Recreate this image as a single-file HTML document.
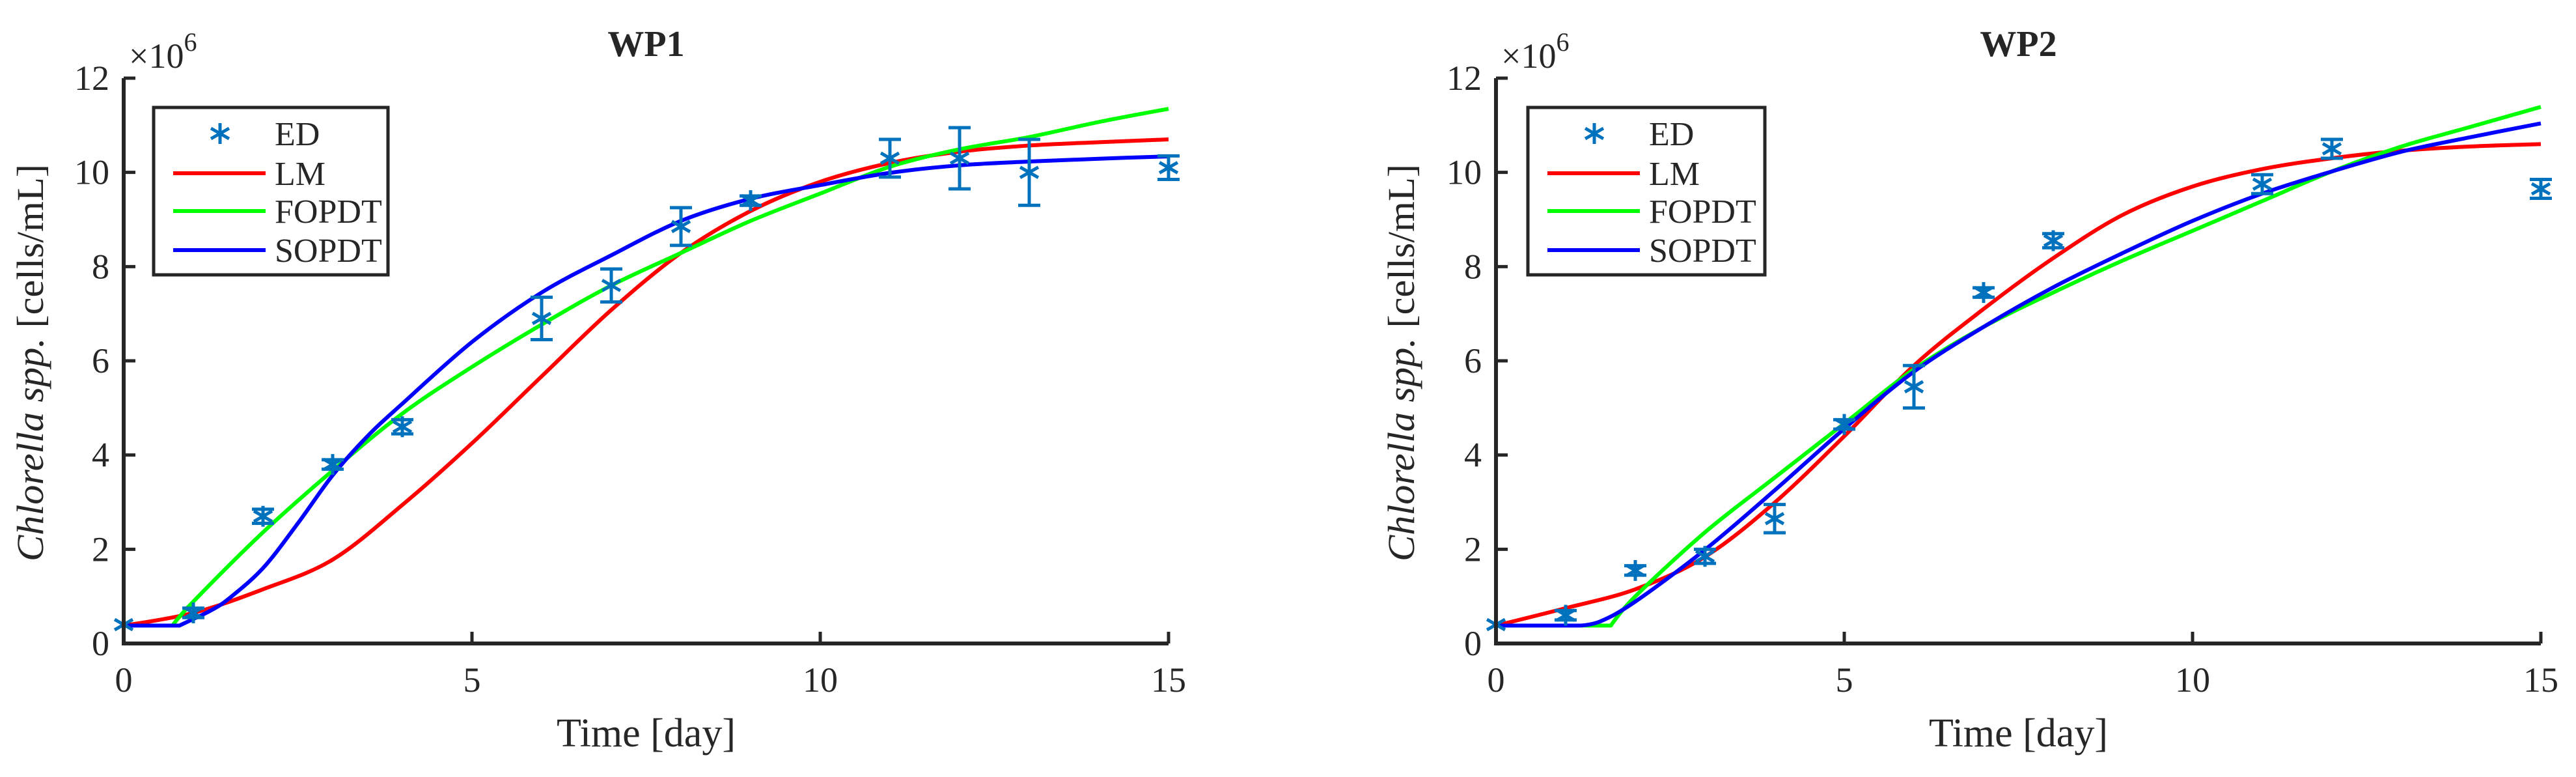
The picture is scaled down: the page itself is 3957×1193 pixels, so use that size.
<!DOCTYPE html>
<html><head><meta charset="utf-8"><style>
html,body{margin:0;padding:0;background:#fff}
svg{display:block}
text{font-family:"Liberation Serif",serif;fill:#262626}
</style></head><body>
<svg id="fig" width="3957" height="1193" viewBox="0 0 3957 1193" xmlns="http://www.w3.org/2000/svg"></svg>
<script>
// ---- data ----
const xTicks=[0,5,10,15];
const yTicks=[0,2,4,6,8,10,12];
const wp1EdX=[0,1,2,3,4,6,7,8,9,11,12,13,15];
const wp1EdY=[0.4,0.65,2.7,3.8,4.6,6.9,7.6,8.85,9.4,10.3,10.3,10.0,10.1];
const wp1EdErr=[0.05,0.1,0.15,0.1,0.15,0.45,0.35,0.4,0.1,0.4,0.65,0.7,0.25];
const wp1LmX=[0,1,2,3,4,5,6,7,8,9,10,11,12,13,14,15];
const wp1LmY=[0.38,0.65,1.15,1.78,2.94,4.25,5.67,7.08,8.29,9.18,9.8,10.2,10.44,10.57,10.64,10.7];
const wp1FoX=[0,0.7,1,2,3,4,5,6,7,8,9,10,11,12,13,14,15];
const wp1FoY=[0.38,0.38,0.89,2.36,3.67,4.88,5.87,6.77,7.6,8.29,8.97,9.55,10.12,10.49,10.75,11.07,11.35];
const wp1SoX=[0,0.8,1,1.25,1.5,2,2.5,3,3.5,4,5,6,7,8,9,10,11,12,13,14,15];
const wp1SoY=[0.38,0.38,0.52,0.7,0.94,1.6,2.55,3.57,4.4,5.09,6.4,7.45,8.24,8.97,9.44,9.73,9.99,10.15,10.23,10.29,10.34];
const wp2EdX=[0,1,2,3,4,5,6,7,8,11,12,15];
const wp2EdY=[0.4,0.6,1.55,1.85,2.65,4.65,5.45,7.45,8.55,9.75,10.5,9.65];
const wp2EdErr=[0.05,0.1,0.1,0.15,0.3,0.1,0.45,0.1,0.15,0.2,0.2,0.2];
const wp2LmX=[0,1,2,3,4,5,6,7,8,9,10,11,12,13,14,15];
const wp2LmY=[0.38,0.75,1.15,1.84,2.99,4.4,5.9,7.1,8.18,9.1,9.7,10.07,10.3,10.46,10.55,10.6];
const wp2FoX=[0,1.65,2,3,4,5,6,7,8,9,10,11,12,13,14,15];
const wp2FoY=[0.38,0.38,1.0,2.36,3.52,4.67,5.82,6.72,7.45,8.13,8.76,9.39,10.02,10.55,10.97,11.39];
const wp2SoX=[0,1.2,1.5,2,3,4,5,6,7,8,9,10,11,12,13,14,15];
const wp2SoY=[0.38,0.38,0.47,0.89,1.99,3.25,4.56,5.77,6.72,7.56,8.29,8.97,9.55,10.02,10.44,10.75,11.04];

const NS="http://www.w3.org/2000/svg";
const svg=document.getElementById('fig');
function mk(tag,attrs,parent){const e=document.createElementNS(NS,tag);for(const k in attrs)e.setAttribute(k,attrs[k]);(parent||svg).appendChild(e);return e;}
function smooth(pts){let d=`M${pts[0][0]},${pts[0][1]}`;for(let i=0;i<pts.length-1;i++){const p0=pts[Math.max(0,i-1)],p1=pts[i],p2=pts[i+1],p3=pts[Math.min(pts.length-1,i+2)];
const flat=(p1[1]===p2[1]);const t=flat?0:1/6;const t0=(p0[1]===p1[1])?0:t;const t3=(p2[1]===p3[1]&&i+2<pts.length)?0:t;
d+=` C${p1[0]+(p2[0]-p0[0])*t0},${p1[1]+(p2[1]-p0[1])*t0} ${p2[0]-(p3[0]-p1[0])*t3},${p2[1]-(p3[1]-p1[1])*t3} ${p2[0]},${p2[1]}`;}return d;}

function panel(o){
  const g=mk('g',{});
  
  
  const X=v=>o.x0+(o.x1-o.x0)*v/15, Y=v=>o.y0-(o.y0-o.y1)*v/12;
  const cols={lm:'#ff0000',fo:'#00ff00',so:'#0000ff'};
  [['lm',o.lmX,o.lmY],['fo',o.foX,o.foY],['so',o.soX,o.soY]].forEach(([k,xs,ys])=>{
    const p=mk('path',{d:smooth(xs.map((x,i)=>[X(x),Y(ys[i])])),fill:'none',stroke:cols[k],'stroke-width':6,'stroke-linejoin':'round'},g);
    
    
  });
  o.edX.forEach((x,i)=>{
    const cx=X(x),cy=Y(o.edY[i]),e=(o.y0-o.y1)*o.edErr[i]/12;
    const m=mk('g',{stroke:'#0072BD','stroke-width':5,fill:'none'},g);
    
    
    if(o.edErr[i]>0.06){
      mk('line',{x1:cx,y1:cy-e,x2:cx,y2:cy+e},m);
      mk('line',{x1:cx-17,y1:cy-e,x2:cx+17,y2:cy-e},m);
      mk('line',{x1:cx-17,y1:cy+e,x2:cx+17,y2:cy+e},m);
    }
    const r=16;
    mk('line',{x1:cx,y1:cy-r,x2:cx,y2:cy+r},m);
    mk('line',{x1:cx-r*0.87,y1:cy-r*0.5,x2:cx+r*0.87,y2:cy+r*0.5},m);
    mk('line',{x1:cx-r*0.87,y1:cy+r*0.5,x2:cx+r*0.87,y2:cy-r*0.5},m);
  });
  const ax=mk('path',{d:`M${o.x0},${o.y1} V${o.y0} H${o.x1}`,fill:'none',stroke:'#262626','stroke-width':6},g);
  
  
  xTicks.forEach(v=>{mk('line',{x1:X(v),y1:o.y0,x2:X(v),y2:o.y0-18,stroke:'#262626','stroke-width':5},g);
    const t=mk('text',{x:X(v),y:o.y0+74,'font-size':54,'text-anchor':'middle'},g);t.textContent=v;
    
    });
  yTicks.forEach(v=>{mk('line',{x1:o.x0,y1:Y(v),x2:o.x0+18,y2:Y(v),stroke:'#262626','stroke-width':5},g);
    const t=mk('text',{x:o.x0-22,y:Y(v)+18,'font-size':54,'text-anchor':'end'},g);t.textContent=v;
    
    });
  let t=mk('text',{x:o.x0+8,y:o.y1-16,'font-size':54},g);t.innerHTML='×10<tspan font-size="40" dy="-26">6</tspan>';
  
  
  t=mk('text',{x:(o.x0+o.x1)/2,y:86,'font-size':56,'font-weight':'bold','text-anchor':'middle',fill:'#000'},g);t.textContent=o.title;
  
  
  t=mk('text',{x:(o.x0+o.x1)/2,y:1146,'font-size':62,'text-anchor':'middle'},g);t.textContent='Time [day]';
  
  
  t=mk('text',{x:0,y:0,'font-size':58,'text-anchor':'middle',transform:`translate(${o.ylx},557) rotate(-90)`,textLength:610,lengthAdjust:'spacingAndGlyphs'},g);
  t.innerHTML='<tspan font-style="italic">Chlorella spp.</tspan>  [cells/mL]';
  
  
  const L=mk('g',{},g);
  
  
  mk('rect',{x:o.lx,y:165,width:o.lw,height:257,fill:'#fff',stroke:'#262626','stroke-width':5},L);
  const rows=[['ED',null,205],['LM','#ff0000',266],['FOPDT','#00ff00',324],['SOPDT','#0000ff',384]];
  rows.forEach(([lab,c,y])=>{
    const e=mk('g',{},L);
    
    
    if(c){mk('line',{x1:o.lx+30,y1:y,x2:o.lx+172,y2:y,stroke:c,'stroke-width':6},e);}
    else{const cx=o.lx+102,r=16,m=mk('g',{stroke:'#0072BD','stroke-width':5},e);
      mk('line',{x1:cx,y1:y-r,x2:cx,y2:y+r},m);
      mk('line',{x1:cx-r*0.87,y1:y-r*0.5,x2:cx+r*0.87,y2:y+r*0.5},m);
      mk('line',{x1:cx-r*0.87,y1:y+r*0.5,x2:cx+r*0.87,y2:y-r*0.5},m);}
    const tt=mk('text',{x:o.lx+186,y:y+18,'font-size':52,fill:'#000'},e);tt.textContent=lab;
  });
}
panel({name:'wp1-panel',title:'WP1',x0:190,x1:1795,y0:988,y1:120,ylx:66,lx:236,lw:360,
  edX:wp1EdX,edY:wp1EdY,edErr:wp1EdErr,lmX:wp1LmX,lmY:wp1LmY,foX:wp1FoX,foY:wp1FoY,soX:wp1SoX,soY:wp1SoY});
panel({name:'wp2-panel',title:'WP2',x0:2298,x1:3903,y0:988,y1:120,ylx:2172,lx:2347,lw:364,
  edX:wp2EdX,edY:wp2EdY,edErr:wp2EdErr,lmX:wp2LmX,lmY:wp2LmY,foX:wp2FoX,foY:wp2FoY,soX:wp2SoX,soY:wp2SoY});
</script>
</body></html>
